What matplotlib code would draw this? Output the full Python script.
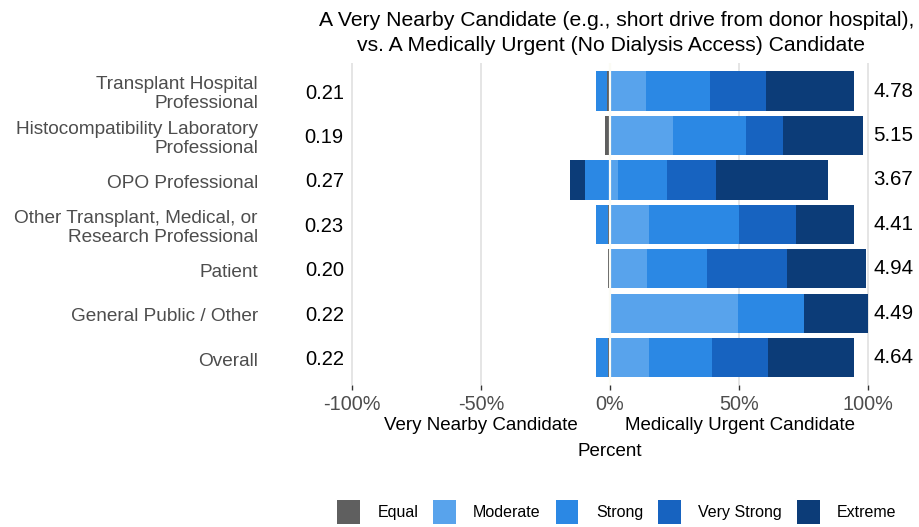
#coding=utf-8
'''likert style diverging bars: very nearby vs medically urgent candidate'''
import numpy as np
import matplotlib
matplotlib.use('Agg')
import matplotlib.pyplot as plt
from matplotlib.patches import Patch
import matplotlib.transforms as mtrans

plt.rcParams['font.family'] = ['Liberation Sans', 'DejaVu Sans']

# figure size in pixels
W, H = 919, 527

#############################################

groups = ['Transplant Hospital\nProfessional',
          'Histocompatibility Laboratory\nProfessional',
          'OPO Professional',
          'Other Transplant, Medical, or\nResearch Professional',
          'Patient',
          'General Public / Other',
          'Overall']
left_scores = ['0.21', '0.19', '0.27', '0.23', '0.20', '0.22', '0.22']
right_scores = ['4.78', '5.15', '3.67', '4.41', '4.94', '4.49', '4.64']

levels = ['Equal', 'Moderate', 'Strong', 'Very Strong', 'Extreme']
level_colors = ['#5f5f5f', '#58a3ec', '#2b88e4', '#1763c0', '#0c3c78']

# percent favouring the very nearby candidate (drawn left of zero)
near_moderate = [0.0, 0.0, 0.0, 0.0, 0.0, 0.0, 0.0]
near_strong = [4.5, 0.0, 9.7, 4.8, 0.0, 0.0, 4.6]
near_very_strong = [0.0, 0.0, 0.0, 0.0, 0.0, 0.0, 0.0]
near_extreme = [0.0, 0.0, 5.8, 0.0, 0.0, 0.0, 0.0]

# percent judging both equal
equal = [1.0, 2.0, 0.0, 0.8, 0.8, 0.0, 0.8]

# percent favouring the medically urgent candidate (drawn right of zero)
urgent_moderate = [14.0, 24.4, 3.0, 15.0, 14.5, 49.6, 15.0]
urgent_strong = [24.8, 28.3, 19.0, 34.9, 23.0, 25.6, 24.4]
urgent_very_strong = [21.7, 14.3, 19.0, 22.0, 31.0, 0.0, 21.7]
urgent_extreme = [34.0, 31.0, 43.5, 22.5, 30.7, 24.8, 33.5]

xticks = [-100, -50, 0, 50, 100]
xticklabels = ['-100%', '-50%', '0%', '50%', '100%']

#############################################


def px(x, y):
    '''pixel position (from top left) to figure fraction'''
    return x / W, 1 - y / H


def draw_bars(ax, rows):
    # equal sits just left of zero, then the near side goes outwards
    eq = np.array(equal)
    ax.barh(rows, -eq, height=0.88, color=level_colors[0], zorder=2)
    start = -eq
    for vals, col in zip([near_moderate, near_strong, near_very_strong,
                          near_extreme], level_colors[1:]):
        v = np.array(vals)
        ax.barh(rows, -v, left=start, height=0.88, color=col, zorder=2)
        start = start - v

    start = np.zeros(len(rows))
    for vals, col in zip([urgent_moderate, urgent_strong, urgent_very_strong,
                          urgent_extreme], level_colors[1:]):
        v = np.array(vals)
        ax.barh(rows, v, left=start, height=0.88, color=col, zorder=2)
        start = start + v

    ax.axvline(0, color='#fbfbf5', lw=1.6, zorder=3)


def decorate(fig, ax, rows):
    ax.set_xlim(-101.55, 101.55)
    ax.set_ylim(6.61, -0.63)
    ax.set_xticks(xticks)
    ax.set_xticklabels(xticklabels, fontsize=14.3, color='#4d4d4d')
    ax.tick_params(axis='x', length=3.5, width=1, color='#333333', pad=4)
    ax.set_yticks(rows)
    ax.set_yticklabels(left_scores, fontsize=14.5, color='black')
    ax.tick_params(axis='y', length=0, pad=3)
    ax.grid(axis='x', color='#e0e0e0', lw=1.2, zorder=0)
    ax.set_axisbelow(True)
    for s in ax.spines.values():
        s.set_visible(False)

    trans = mtrans.blended_transform_factory(ax.transAxes, ax.transData)
    for r, name, sc in zip(rows, groups, right_scores):
        ax.annotate(name, xy=(0, r), xycoords=trans, xytext=(-64.8, -2.3),
                    textcoords='offset points', ha='right', va='center',
                    fontsize=13.7, color='#4d4d4d', linespacing=1.17,
                    multialignment='right')
        ax.annotate(sc, xy=(1, r), xycoords=trans, xytext=(1.0, 0),
                    textcoords='offset points', ha='left', va='center',
                    fontsize=14.8, color='black')

    fig.text(*px(617, 20), 'A Very Nearby Candidate (e.g., short drive '
             'from donor hospital),', ha='center', va='center', fontsize=15.2)
    fig.text(*px(611, 45), 'vs. A Medically Urgent (No Dialysis Access) '
             'Candidate', ha='center', va='center', fontsize=15.2)

    fig.text(*px(481, 425), 'Very Nearby Candidate', ha='center',
             va='center', fontsize=13.5)
    fig.text(*px(740, 425), 'Medically Urgent Candidate', ha='center',
             va='center', fontsize=13.5)
    fig.text(*px(610, 452), 'Percent', ha='center', va='center',
             fontsize=13.5)

    handles = [Patch(facecolor=c, edgecolor='none') for c in level_colors]
    fig.legend(handles, levels, loc='center', bbox_to_anchor=px(617, 512),
               ncol=5, frameon=False, fontsize=11.5, handlelength=1.4,
               handleheight=1.9, handletextpad=1.1, columnspacing=0.95)


if __name__ == '__main__':
    fig = plt.figure(figsize=(W / 100, H / 100), dpi=100)
    ax = fig.add_axes([348 / W, 1 - 385 / H, 524 / W, 322 / H])
    rows = np.arange(len(groups))

    draw_bars(ax, rows)
    decorate(fig, ax, rows)

    fig.savefig('out.png', dpi=100)
